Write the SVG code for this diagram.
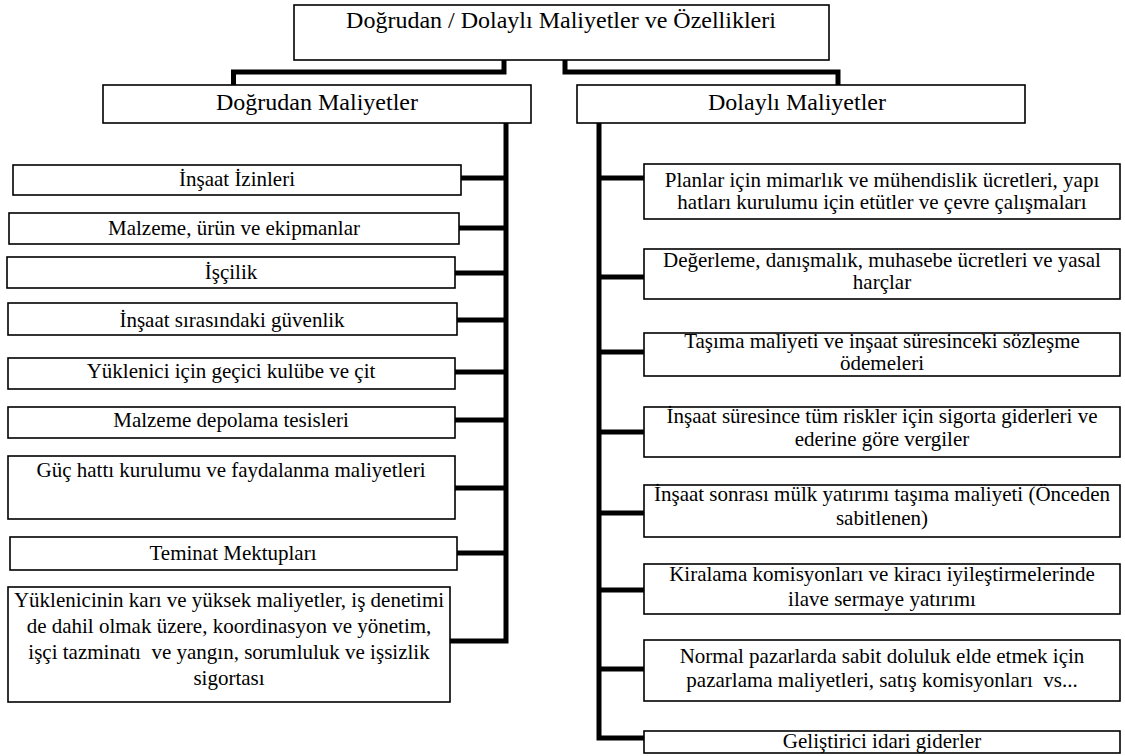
<svg xmlns="http://www.w3.org/2000/svg" width="1125" height="756" viewBox="0 0 1125 756" font-family="Liberation Serif, Tinos, Times New Roman, DejaVu Serif, serif">
<style>
.box{fill:#fff;stroke:#000;stroke-width:1.6}
.c{fill:none;stroke:#000;stroke-width:5;stroke-linejoin:miter}
.t text{font-size:21px;text-anchor:middle;fill:#000}
.t text.h{font-size:24px}
.pre{white-space:pre}
</style>
<g id="connectors">
<path class="c" d="M504 60 V72 H233.5 V85"/>
<path class="c" d="M565 60 V72 H838 V85"/>
<path class="c" d="M506 123 V641 H450"/>
<path class="c" d="M461 178 H506 M459 228 H506 M455 273 H506 M457 320 H506 M455 372 H506 M455 420 H506 M455 488 H506 M457 553 H506"/>
<path class="c" d="M599 123 V738 H644"/>
<path class="c" d="M599 178 H644 M599 277 H644 M599 352 H644 M599 432 H644 M599 513 H644 M599 590 H644 M599 669 H644"/>
</g>
<g class="t">
<g id="root"><rect class="box" x="294" y="5" width="535" height="55"/><text class="h" x="561" y="28">Doğrudan / Dolaylı Maliyetler ve Özellikleri</text></g>
<g id="direct"><rect class="box" x="103" y="85" width="428" height="38"/><text class="h" x="317" y="110">Doğrudan Maliyetler</text></g>
<g id="indirect"><rect class="box" x="577" y="85" width="448" height="38"/><text class="h" x="797" y="110">Dolaylı Maliyetler</text></g>
<g id="d1"><rect class="box" x="13" y="165" width="448" height="30"/><text x="237" y="186">İnşaat İzinleri</text></g>
<g id="d2"><rect class="box" x="9" y="213" width="450" height="31"/><text x="234" y="235">Malzeme, ürün ve ekipmanlar</text></g>
<g id="d3"><rect class="box" x="7" y="257" width="448" height="31"/><text x="231" y="279">İşçilik</text></g>
<g id="d4"><rect class="box" x="8" y="303" width="449" height="32"/><text x="232" y="327">İnşaat sırasındaki güvenlik</text></g>
<g id="d5"><rect class="box" x="8" y="358" width="447" height="31"/><text x="231" y="378">Yüklenici için geçici kulübe ve çit</text></g>
<g id="d6"><rect class="box" x="8" y="407" width="447" height="31"/><text x="231" y="427">Malzeme depolama tesisleri</text></g>
<g id="d7"><rect class="box" x="8" y="456" width="447" height="63"/><text x="231" y="477">Güç hattı kurulumu ve faydalanma maliyetleri</text></g>
<g id="d8"><rect class="box" x="10" y="537" width="447" height="33"/><text x="233" y="560">Teminat Mektupları</text></g>
<g id="d9"><rect class="box" x="8" y="587" width="442" height="115"/>
<text x="229" y="607">Yüklenicinin karı ve yüksek maliyetler, iş denetimi</text>
<text x="229" y="633">de dahil olmak üzere, koordinasyon ve yönetim,</text>
<text class="pre" x="229" y="659">işçi tazminatı  ve yangın, sorumluluk ve işsizlik</text>
<text x="229" y="685">sigortası</text></g>
<g id="i1"><rect class="box" x="644" y="164" width="476" height="55"/><text x="882" y="187">Planlar için mimarlık ve mühendislik ücretleri, yapı</text><text x="882" y="209">hatları kurulumu için etütler ve çevre çalışmaları</text></g>
<g id="i2"><rect class="box" x="644" y="249" width="476" height="50"/><text x="882" y="267">Değerleme, danışmalık, muhasebe ücretleri ve yasal</text><text x="882" y="289">harçlar</text></g>
<g id="i3"><rect class="box" x="644" y="333" width="476" height="43"/><text x="882" y="348">Taşıma maliyeti ve inşaat süresinceki sözleşme</text><text x="882" y="370">ödemeleri</text></g>
<g id="i4"><rect class="box" x="644" y="407" width="476" height="50"/><text x="882" y="423">İnşaat süresince tüm riskler için sigorta giderleri ve</text><text x="882" y="446">ederine göre vergiler</text></g>
<g id="i5"><rect class="box" x="644" y="485" width="476" height="52"/><text x="882" y="501">İnşaat sonrası mülk yatırımı taşıma maliyeti (Önceden</text><text x="882" y="525">sabitlenen)</text></g>
<g id="i6"><rect class="box" x="644" y="564" width="476" height="50"/><text x="882" y="581">Kiralama komisyonları ve kiracı iyileştirmelerinde</text><text x="882" y="606">ilave sermaye yatırımı</text></g>
<g id="i7"><rect class="box" x="644" y="640" width="476" height="61"/><text x="882" y="663">Normal pazarlarda sabit doluluk elde etmek için</text><text class="pre" x="882" y="687">pazarlama maliyetleri, satış komisyonları  vs...</text></g>
<g id="i8"><rect class="box" x="644" y="731" width="476" height="22"/><text x="882" y="748">Geliştirici idari giderler</text></g>
</g>
</svg>
